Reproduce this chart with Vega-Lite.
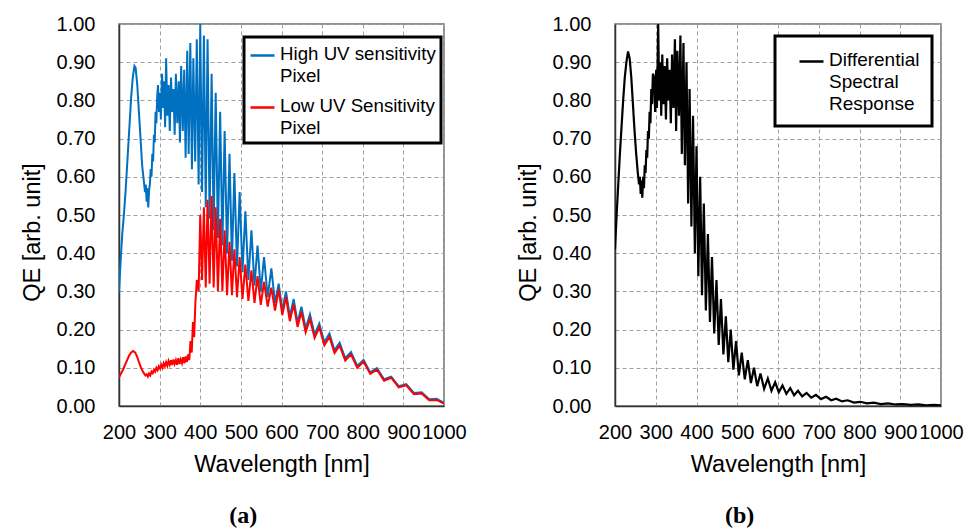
{
  "$schema": "https://vega.github.io/schema/vega-lite/v6.json",
  "background": "white",
  "padding": {"left": 19, "top": 13, "right": 0, "bottom": 0},
  "spacing": 48,
  "config": {
    "font": "Liberation Sans",
    "view": {"stroke": "#6e6e6e", "strokeWidth": 1.5},
    "axis": {
      "labelFont": "Liberation Sans", "labelFontSize": 20, "labelColor": "black",
      "titleFont": "Liberation Sans", "titleFontSize": 23.5, "titleFontWeight": "normal", "titleColor": "black",
      "ticks": false, "domainColor": "#333333", "domainWidth": 1.5,
      "grid": true, "gridDash": [4, 3], "gridColor": "#a0a0a0", "gridWidth": 1,
      "labelOverlap": false, "labelFlush": false
    },
    "legend": {
      "labelFont": "Liberation Sans", "labelColor": "black", "labelLimit": 400,
      "strokeColor": "black", "strokeWidth": 3, "fillColor": "white", "cornerRadius": 0,
      "symbolType": "stroke", "symbolSize": 576, "symbolStrokeWidth": 2.5, "title": null
    },
    "title": {"font": "Liberation Serif", "fontSize": 24, "fontWeight": "bold", "color": "black", "orient": "bottom", "offset": 28, "frame": "bounds", "anchor": "middle"}
  },
  "resolve": {"scale": {"color": "independent"}, "legend": {"color": "independent"}},
  "datasets": {
    "hi": [
      {"w":200,"q":0.30},{"w":204,"q":0.38},{"w":208,"q":0.45},{"w":212,"q":0.50},{"w":216,"q":0.56},{"w":220,"q":0.63},{"w":225,"q":0.72},{"w":230,"q":0.81},{"w":234,"q":0.86},{"w":238,"q":0.89},{"w":241,"q":0.885},{"w":245,"q":0.84},{"w":249,"q":0.77},{"w":253,"q":0.70},{"w":257,"q":0.63},{"w":261,"q":0.59},{"w":264,"q":0.56},{"w":266,"q":0.58},{"w":268,"q":0.535},{"w":270,"q":0.57},{"w":272,"q":0.52},{"w":274,"q":0.565},{"w":276,"q":0.58},{"w":278,"q":0.62},{"w":280,"q":0.60},{"w":282,"q":0.66},{"w":284,"q":0.64},{"w":286,"q":0.71},{"w":288,"q":0.69},{"w":290,"q":0.77},{"w":292,"q":0.74},{"w":294,"q":0.81},
      {"w":296,"q":0.84},{"w":298.5,"q":0.77},{"w":301,"q":0.82},{"w":303,"q":0.75},{"w":306,"q":0.87},{"w":308.5,"q":0.78},{"w":311,"q":0.85},{"w":313.5,"q":0.73},{"w":316,"q":0.91},{"w":319,"q":0.76},{"w":322,"q":0.84},{"w":325,"q":0.72},{"w":328,"q":0.86},{"w":331,"q":0.77},{"w":334,"q":0.83},{"w":337,"q":0.71},{"w":340,"q":0.87},{"w":343.5,"q":0.74},{"w":347,"q":0.85},{"w":350,"q":0.69},{"w":353,"q":0.89},{"w":357,"q":0.72},{"w":360.5,"q":0.88},{"w":364,"q":0.65},{"w":368,"q":0.93},{"w":371.5,"q":0.66},{"w":375.5,"q":0.95},{"w":379.5,"q":0.62},{"w":383,"q":0.91},{"w":387.5,"q":0.64},{"w":391.5,"q":0.96},{"w":396,"q":0.58},{"w":400,"q":1.00},{"w":404.5,"q":0.56},{"w":409,"q":0.97},{"w":413.5,"q":0.52},{"w":418,"q":0.96},{"w":423,"q":0.49},{"w":428,"q":0.87},{"w":433,"q":0.46},{"w":438,"q":0.82},{"w":443.5,"q":0.44},{"w":449,"q":0.77},{"w":454.5,"q":0.42},{"w":460,"q":0.72},{"w":466,"q":0.40},{"w":472,"q":0.66},{"w":478,"q":0.38},{"w":484,"q":0.61},{"w":490.5,"q":0.365},{"w":497,"q":0.56},{"w":504,"q":0.35},{"w":511,"q":0.51},{"w":518.5,"q":0.33},{"w":526,"q":0.46},{"w":533.5,"q":0.315},{"w":541,"q":0.42},{"w":549,"q":0.30},{"w":557,"q":0.39},{"w":566,"q":0.285},{"w":575,"q":0.36},{"w":584,"q":0.27},
      {"w":593,"q":0.32},{"w":602,"q":0.25},{"w":611,"q":0.30},{"w":620.5,"q":0.234},{"w":630,"q":0.28},{"w":639.5,"q":0.218},{"w":649,"q":0.26},{"w":659.5,"q":0.203},{"w":670,"q":0.24},{"w":681.5,"q":0.187},{"w":693,"q":0.216},{"w":705.5,"q":0.167},{"w":718,"q":0.19},{"w":730.5,"q":0.146},{"w":743,"q":0.166},{"w":757,"q":0.125},{"w":771,"q":0.141},{"w":786.5,"q":0.105},{"w":802,"q":0.121},{"w":818.5,"q":0.088},{"w":835,"q":0.099},{"w":852.5,"q":0.07},{"w":870,"q":0.077},{"w":888.5,"q":0.052},{"w":907,"q":0.057},{"w":926,"q":0.034},{"w":945,"q":0.036},{"w":963.5,"q":0.018},{"w":982,"q":0.019},{"w":1000,"q":0.008}
    ],
    "lo": [
      {"w":200,"q":0.075},{"w":205,"q":0.085},{"w":210,"q":0.095},{"w":215,"q":0.108},{"w":220,"q":0.12},{"w":225,"q":0.132},{"w":230,"q":0.14},{"w":235,"q":0.144},{"w":240,"q":0.14},{"w":245,"q":0.128},{"w":250,"q":0.112},{"w":255,"q":0.098},{"w":260,"q":0.088},{"w":265,"q":0.08},{"w":268,"q":0.083},{"w":271,"q":0.077},{"w":274,"q":0.085},{"w":277,"q":0.08},{"w":280,"q":0.09},{"w":283,"q":0.086},{"w":286,"q":0.095},{"w":289,"q":0.09},{"w":292,"q":0.1},{"w":295,"q":0.094},{"w":298,"q":0.104},{"w":301,"q":0.098},{"w":304,"q":0.108},{"w":307,"q":0.1},{"w":310,"q":0.112},{"w":313,"q":0.104},{"w":316,"q":0.115},{"w":319,"q":0.105},{"w":322,"q":0.118},{"w":325,"q":0.108},{"w":328,"q":0.12},{"w":331,"q":0.107},{"w":334,"q":0.122},{"w":337,"q":0.11},{"w":340,"q":0.12},{"w":343,"q":0.108},{"w":346,"q":0.125},{"w":349,"q":0.11},{"w":352,"q":0.122},{"w":355,"q":0.112},{"w":358,"q":0.128},{"w":361,"q":0.112},{"w":364,"q":0.13},{"w":367,"q":0.115},{"w":370,"q":0.135},{"w":373,"q":0.12},{"w":376,"q":0.17},{"w":379,"q":0.14},{"w":382,"q":0.22},{"w":385,"q":0.18},{"w":388,"q":0.27},{"w":391.5,"q":0.33},{"w":396,"q":0.30},
      {"w":400,"q":0.50},{"w":404.5,"q":0.33},{"w":409,"q":0.52},{"w":413.5,"q":0.31},{"w":418,"q":0.54},{"w":423,"q":0.32},{"w":428,"q":0.55},{"w":433,"q":0.31},{"w":438,"q":0.52},{"w":443.5,"q":0.30},{"w":449,"q":0.49},{"w":454.5,"q":0.30},{"w":460,"q":0.46},{"w":466,"q":0.29},{"w":472,"q":0.43},{"w":478,"q":0.29},{"w":484,"q":0.41},{"w":490.5,"q":0.285},{"w":497,"q":0.39},{"w":504,"q":0.28},{"w":511,"q":0.37},{"w":518.5,"q":0.275},{"w":526,"q":0.355},{"w":533.5,"q":0.27},{"w":541,"q":0.34},{"w":549,"q":0.265},{"w":557,"q":0.325},{"w":566,"q":0.26},{"w":575,"q":0.31},{"w":584,"q":0.25},
      {"w":593,"q":0.305},{"w":602,"q":0.238},{"w":611,"q":0.285},{"w":620.5,"q":0.222},{"w":630,"q":0.266},{"w":639.5,"q":0.207},{"w":649,"q":0.247},{"w":659.5,"q":0.193},{"w":670,"q":0.228},{"w":681.5,"q":0.178},{"w":693,"q":0.206},{"w":705.5,"q":0.159},{"w":718,"q":0.181},{"w":730.5,"q":0.139},{"w":743,"q":0.158},{"w":757,"q":0.119},{"w":771,"q":0.135},{"w":786.5,"q":0.10},{"w":802,"q":0.116},{"w":818.5,"q":0.084},{"w":835,"q":0.095},{"w":852.5,"q":0.066},{"w":870,"q":0.074},{"w":888.5,"q":0.049},{"w":907,"q":0.054},{"w":926,"q":0.031},{"w":945,"q":0.033},{"w":963.5,"q":0.015},{"w":982,"q":0.016},{"w":1000,"q":0.006}
    ],
    "diff": [
      {"w":200,"q":0.41},{"w":204,"q":0.50},{"w":208,"q":0.58},{"w":212,"q":0.66},{"w":216,"q":0.73},{"w":220,"q":0.80},{"w":224,"q":0.86},{"w":228,"q":0.90},{"w":232,"q":0.928},{"w":236,"q":0.91},{"w":240,"q":0.86},{"w":244,"q":0.79},{"w":248,"q":0.72},{"w":252,"q":0.66},{"w":256,"q":0.61},{"w":259,"q":0.58},{"w":261,"q":0.60},{"w":263,"q":0.555},{"w":265,"q":0.59},{"w":267,"q":0.545},{"w":269,"q":0.60},{"w":271,"q":0.57},{"w":273,"q":0.63},{"w":275,"q":0.61},{"w":277,"q":0.67},{"w":279,"q":0.65},{"w":281,"q":0.72},{"w":283,"q":0.70},{"w":285,"q":0.77},{"w":287,"q":0.74},{"w":289,"q":0.83},{"w":291,"q":0.79},{"w":293,"q":0.87},
      {"w":296,"q":0.86},{"w":298.5,"q":0.77},{"w":301,"q":0.88},{"w":303,"q":0.78},{"w":306,"q":1.00},{"w":308.5,"q":0.80},{"w":311,"q":0.90},{"w":313.5,"q":0.76},{"w":316,"q":0.92},{"w":319,"q":0.79},{"w":322,"q":0.89},{"w":325,"q":0.75},{"w":328,"q":0.91},{"w":331,"q":0.80},{"w":334,"q":0.88},{"w":337,"q":0.74},{"w":340,"q":0.92},{"w":343.5,"q":0.78},{"w":347,"q":0.96},{"w":350,"q":0.72},{"w":353,"q":0.93},{"w":357,"q":0.76},{"w":360.5,"q":0.97},{"w":364,"q":0.66},{"w":368,"q":0.95},{"w":371.5,"q":0.63},{"w":375.5,"q":0.90},{"w":379.5,"q":0.53},{"w":383,"q":0.83},{"w":387.5,"q":0.47},{"w":391.5,"q":0.76},{"w":396,"q":0.40},{"w":400,"q":0.68},{"w":404.5,"q":0.34},{"w":409,"q":0.60},{"w":413.5,"q":0.29},{"w":418,"q":0.53},{"w":423,"q":0.25},{"w":428,"q":0.45},{"w":433,"q":0.22},{"w":438,"q":0.39},{"w":443.5,"q":0.19},{"w":449,"q":0.33},{"w":454.5,"q":0.16},{"w":460,"q":0.28},{"w":466,"q":0.135},{"w":472,"q":0.235},{"w":478,"q":0.115},{"w":484,"q":0.20},{"w":490.5,"q":0.095},{"w":497,"q":0.17},{"w":504,"q":0.08},{"w":511,"q":0.14},{"w":518.5,"q":0.07},{"w":526,"q":0.12},{"w":533.5,"q":0.06},{"w":541,"q":0.10},{"w":549,"q":0.052},{"w":557,"q":0.085},{"w":566,"q":0.045},{"w":575,"q":0.072},{"w":584,"q":0.04},{"w":593,"q":0.062},{"w":602,"q":0.036},{"w":611,"q":0.054},{"w":620.5,"q":0.032},{"w":630,"q":0.047},{"w":639.5,"q":0.028},{"w":649,"q":0.04},{"w":659.5,"q":0.025},{"w":670,"q":0.034},{"w":681.5,"q":0.022},{"w":693,"q":0.029},{"w":705.5,"q":0.018},{"w":718,"q":0.024},{"w":730.5,"q":0.015},{"w":743,"q":0.019},{"w":757,"q":0.012},{"w":771,"q":0.015},{"w":786.5,"q":0.009},{"w":802,"q":0.011},{"w":818.5,"q":0.007},{"w":835,"q":0.009},{"w":852.5,"q":0.005},{"w":870,"q":0.007},{"w":888.5,"q":0.004},{"w":907,"q":0.005},{"w":926,"q":0.003},{"w":945,"q":0.004},{"w":963.5,"q":0.002},{"w":982,"q":0.003},{"w":1000,"q":0.002}
    ]
  },
  "hconcat": [
    {
      "width": 325, "height": 382,
      "title": {"text": "(a)"},
      "encoding": {
        "x": {"field": "w", "type": "quantitative", "scale": {"domain": [200, 1000], "nice": false},
              "axis": {"values": [200, 300, 400, 500, 600, 700, 800, 900, 1000], "format": "d", "title": "Wavelength [nm]", "labelPadding": 16, "titlePadding": 10}},
        "y": {"field": "q", "type": "quantitative", "scale": {"domain": [0, 1], "nice": false},
              "axis": {"values": [0, 0.1, 0.2, 0.3, 0.4, 0.5, 0.6, 0.7, 0.8, 0.9, 1], "format": ".2f", "title": "QE [arb. unit]", "labelPadding": 24, "titlePadding": 12, "titleY": 208}}
      },
      "layer": [
        {"data": {"name": "hi"}, "mark": {"type": "line", "strokeWidth": 2, "clip": true},
         "encoding": {"color": {"datum": "High UV sensitivity Pixel", "type": "nominal",
            "scale": {"domain": ["High UV sensitivity Pixel", "Low UV Sensitivity Pixel"], "range": ["#0070C0", "#FF0000"]},
            "legend": {"orient": "none", "legendX": 125, "legendY": 13, "padding": 5, "labelFontSize": 18.7, "labelOffset": 4, "rowPadding": 8,
              "labelBaseline": "top", "labelExpr": "[replace(datum.label, ' Pixel', ''), 'Pixel']",
              "encode": {"labels": {"update": {"dy": {"value": -11}, "lineHeight": {"value": 22}}}}}}}},
        {"data": {"name": "lo"}, "mark": {"type": "line", "strokeWidth": 2, "clip": true},
         "encoding": {"color": {"datum": "Low UV Sensitivity Pixel", "type": "nominal"}}}
      ]
    },
    {
      "width": 326, "height": 382,
      "title": {"text": "(b)"},
      "data": {"name": "diff"},
      "mark": {"type": "line", "strokeWidth": 2.2, "clip": true},
      "encoding": {
        "x": {"field": "w", "type": "quantitative", "scale": {"domain": [200, 1000], "nice": false},
              "axis": {"values": [200, 300, 400, 500, 600, 700, 800, 900, 1000], "format": "d", "title": "Wavelength [nm]", "labelPadding": 16, "titlePadding": 10}},
        "y": {"field": "q", "type": "quantitative", "scale": {"domain": [0, 1], "nice": false},
              "axis": {"values": [0, 0.1, 0.2, 0.3, 0.4, 0.5, 0.6, 0.7, 0.8, 0.9, 1], "format": ".2f", "title": "QE [arb. unit]", "labelPadding": 24, "titlePadding": 12, "titleY": 208}},
        "color": {"datum": "Differential Spectral Response", "type": "nominal",
          "scale": {"domain": ["Differential Spectral Response"], "range": ["black"]},
          "legend": {"orient": "none", "legendX": 160, "legendY": 12, "padding": 12, "symbolOffset": 11, "labelFontSize": 19, "labelOffset": 4,
            "labelBaseline": "top", "labelExpr": "split(datum.label, ' ')",
            "encode": {"labels": {"update": {"dy": {"value": -11}, "lineHeight": {"value": 22}}}}}}
      }
    }
  ]
}
